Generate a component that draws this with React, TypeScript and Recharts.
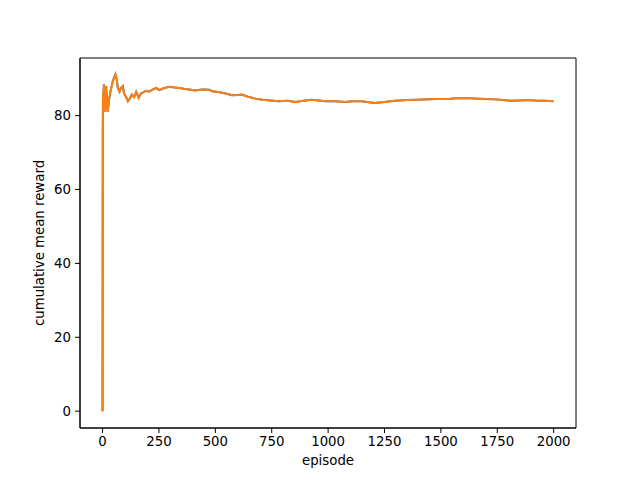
import { LineChart, Line, XAxis, YAxis, ReferenceArea } from "recharts";

// episode index -> cumulative mean reward
const episodes = [
  0, 1, 2, 4, 6, 9, 13, 16, 20, 23, 28, 35, 46, 57, 62, 68, 75, 82, 90, 95,
  105, 112, 120, 130, 140, 149, 160, 170, 180, 193, 205, 220, 237, 252, 270,
  296, 320, 340, 360, 384, 410, 440, 472, 486, 520, 550, 574, 600, 618, 645,
  678, 710, 745, 781, 820, 855, 890, 927, 960, 987, 1030, 1076, 1110, 1148,
  1180, 1208, 1250, 1297, 1350, 1400, 1444, 1488, 1540, 1591, 1630, 1664,
  1700, 1738, 1775, 1812, 1850, 1885, 1930, 1960, 1999
];

const meanReward = [
  0, 75, 86, 85.5, 88.5, 81, 86, 88, 83, 81, 84, 86.5, 89.5, 91.2, 90, 87.5,
  86.5, 87.5, 88, 86, 85, 83.9, 84.5, 85.7, 85, 86.4, 84.8, 86, 86.3, 86.7,
  86.5, 87, 87.5, 86.9, 87.4, 87.8, 87.6, 87.5, 87.3, 87.1, 86.8, 87.1, 87.0,
  86.6, 86.3, 85.9, 85.5, 85.6, 85.7, 85.1, 84.6, 84.3, 84.1, 83.9, 84.0,
  83.7, 84.0, 84.3, 84.1, 83.9, 83.9, 83.7, 83.9, 83.9, 83.6, 83.4, 83.7,
  84.0, 84.2, 84.3, 84.4, 84.5, 84.6, 84.8, 84.7, 84.6, 84.5, 84.4, 84.2,
  84.0, 84.1, 84.2, 84.0, 84.0, 83.9
];

const xTicks = [0, 250, 500, 750, 1000, 1250, 1500, 1750, 2000];
const yTicks = [0, 20, 40, 60, 80];

const xDomain: [number, number] = [-100, 2099];
const yDomain: [number, number] = [-4.56, 95.6];

const data = episodes.map((episode, i) => ({
  episode,
  reward: meanReward[i],
  rewardTop: meanReward[i]
}));

const tickStyle = {
  fontSize: 13.3,
  fill: "#000",
  fontFamily: "DejaVu Sans"
};

export default function App() {
  return (
    <div style={{ position: "absolute", left: 0, top: 0, background: "#fff" }}>
      <LineChart
        width={640}
        height={480}
        data={data}
        margin={{ top: 58, right: 64, left: 0, bottom: 0 }}
      >
        <XAxis
          dataKey="episode"
          type="number"
          domain={xDomain}
          ticks={xTicks}
          allowDataOverflow
          height={52}
          tickSize={5}
          tickMargin={4}
          tick={tickStyle}
          tickLine={{ stroke: "#000" }}
          axisLine={{ stroke: "#000" }}
          label={{
            value: "episode",
            position: "insideBottom",
            offset: 15,
            style: { fontSize: 13.3, fill: "#000", fontFamily: "DejaVu Sans" }
          }}
        />
        <YAxis
          type="number"
          domain={yDomain}
          ticks={yTicks}
          allowDataOverflow
          width={80}
          tickSize={5}
          tickMargin={4}
          tick={tickStyle}
          tickLine={{ stroke: "#000" }}
          axisLine={{ stroke: "#000" }}
          label={{
            value: "cumulative mean reward",
            angle: -90,
            position: "center",
            dx: -1,
            style: { fontSize: 13.3, fill: "#000", fontFamily: "DejaVu Sans" }
          }}
        />
        <ReferenceArea
          x1={xDomain[0]}
          x2={xDomain[1]}
          y1={yDomain[0]}
          y2={yDomain[1]}
          fill="none"
          stroke="#000"
          strokeWidth={1}
          ifOverflow="visible"
        />
        <Line
          dataKey="reward"
          type="linear"
          stroke="#1f77b4"
          strokeWidth={2}
          dot={false}
          isAnimationActive={false}
        />
        <Line
          dataKey="rewardTop"
          type="linear"
          stroke="#ff7f0e"
          strokeWidth={2}
          dot={false}
          isAnimationActive={false}
        />
      </LineChart>
    </div>
  );
}
